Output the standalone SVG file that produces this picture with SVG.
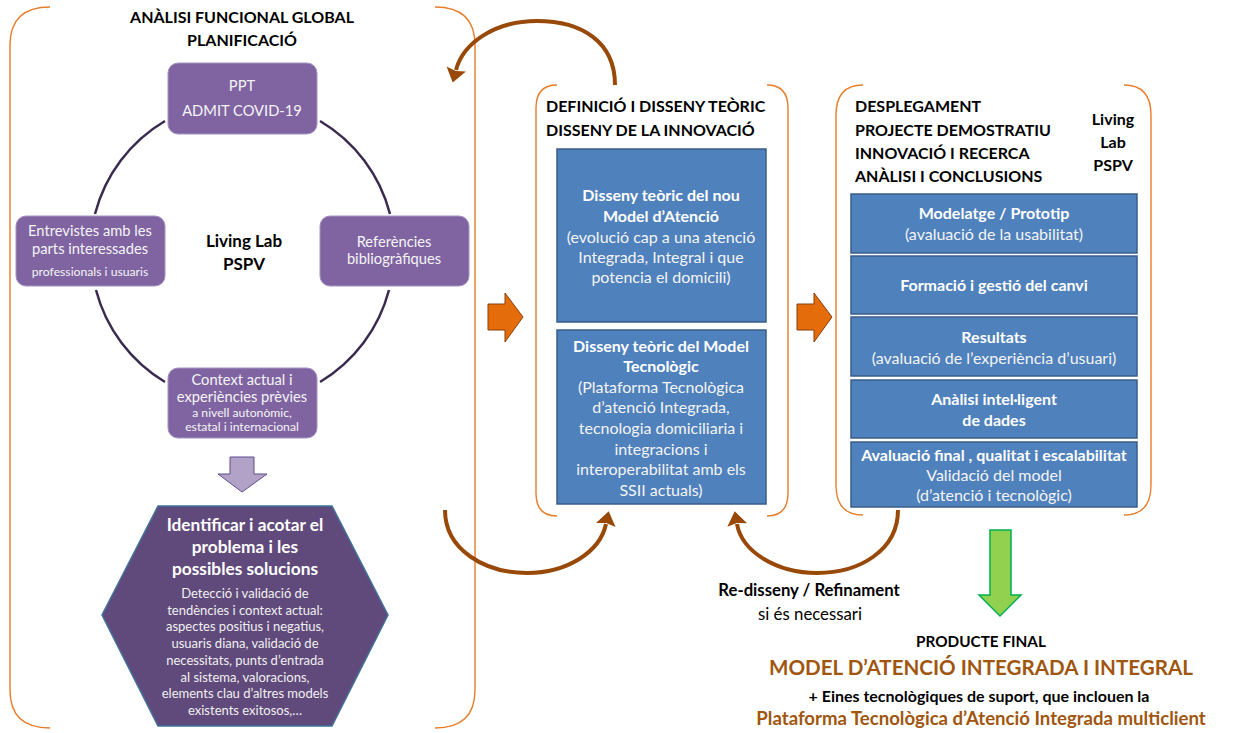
<svg xmlns="http://www.w3.org/2000/svg" width="1260" height="733" viewBox="0 0 1260 733">
  <defs>
    <style>
      text { font-family: Lato, "Open Sans", "Liberation Sans", sans-serif; }
      .bracket { fill: none; stroke: #E87D2A; stroke-width: 1.4; }
      .ring { fill: none; stroke: #3B2A4F; stroke-width: 2.5; }
      .pbox { fill: #8064A2; stroke: #A593C0; stroke-width: 1; }
      .bbox { fill: #4F81BD; stroke: #385D8A; stroke-width: 1.5; }
      .head { font-size: 16px; font-weight: 700; fill: #000; }
      .wt { fill: #F4F4F4; font-size: 16px; text-anchor: middle; }
      .wb { fill: #FFFFFF; font-size: 16px; font-weight: 700; text-anchor: middle; }
      .pt { fill: #F4F4F4; font-size: 14.7px; text-anchor: middle; }
      .sm { font-size: 12.2px; }
      .hx { fill: #F0F0F0; font-size: 13px; text-anchor: middle; }
      .loop { fill: none; stroke: #984807; stroke-width: 4; }
      .step { fill: #E46C0A; stroke: #8A3E06; stroke-width: 1; }
    </style>
    <marker id="brownHead" markerUnits="userSpaceOnUse" markerWidth="24" markerHeight="24" viewBox="0 -12 16 24" refX="1" refY="0" orient="auto">
      <path d="M0,-10 L14,0 L0,10 L2,0 z" fill="#984807"/>
    </marker>
  </defs>

  <!-- phase brackets -->
  <g id="brackets">
    <path class="bracket" d="M50,7 Q10,7 10,45 L10,690 Q10,728 50,728"/>
    <path class="bracket" d="M435,7 Q475,7 475,45 L475,690 Q475,728 435,728"/>
    <path class="bracket" d="M557,85 Q536,85 536,108 L536,493 Q536,516 557,516"/>
    <path class="bracket" d="M767,85 Q788,85 788,108 L788,493 Q788,516 767,516"/>
    <path class="bracket" d="M863,85 Q836,85 836,115 L836,485 Q836,515 863,515"/>
    <path class="bracket" d="M1124,85 Q1151,85 1151,115 L1151,485 Q1151,515 1124,515"/>
  </g>

  <!-- phase 1: global functional analysis -->
  <g id="phase1-title">
    <text class="head" x="242" y="23" text-anchor="middle">ANÀLISI FUNCIONAL GLOBAL</text>
    <text class="head" x="242" y="46" text-anchor="middle">PLANIFICACIÓ</text>
  </g>

  <g id="cycle">
    <path class="ring" d="M165,121 A152,152 0 0 0 95,214"/>
    <path class="ring" d="M320,121 A152,152 0 0 1 390,214"/>
    <path class="ring" d="M96,290 A152,152 0 0 0 165,382"/>
    <path class="ring" d="M389,290 A152,152 0 0 1 320,382"/>
  </g>

  <g id="living-lab-center">
    <text class="head" x="244" y="247" text-anchor="middle" style="font-size:17px">Living Lab</text>
    <text class="head" x="244" y="270" text-anchor="middle" style="font-size:17px">PSPV</text>
  </g>

  <g id="node-ppt">
    <rect class="pbox" x="168" y="63" width="149" height="71" rx="10"/>
    <text class="pt" x="242" y="91">PPT</text>
    <text class="pt" x="242" y="116">ADMIT COVID-19</text>
  </g>

  <g id="node-entrevistes">
    <rect class="pbox" x="16" y="216" width="149" height="70" rx="10"/>
    <text class="pt" x="90" y="236">Entrevistes amb les</text>
    <text class="pt" x="90" y="254">parts interessades</text>
    <text class="pt sm" x="90" y="276">professionals i usuaris</text>
  </g>

  <g id="node-referencies">
    <rect class="pbox" x="320" y="216" width="149" height="70" rx="10"/>
    <text class="pt" x="394" y="247">Referències</text>
    <text class="pt" x="394" y="264">bibliogràfiques</text>
  </g>

  <g id="node-context">
    <rect class="pbox" x="168" y="368" width="149" height="70" rx="10"/>
    <text class="pt" x="242" y="385">Context actual i</text>
    <text class="pt" x="242" y="402">experiències prèvies</text>
    <text class="pt sm" x="242" y="417">a nivell autonòmic,</text>
    <text class="pt sm" x="242" y="431">estatal i internacional</text>
  </g>

  <g id="arrow-down-lilac">
    <path d="M230,457 L254,457 L254,474 L267,474 L242,492 L218,474 L230,474 z" fill="#B3A2C7" stroke="#5F4B8B" stroke-width="1"/>
  </g>

  <g id="node-problema">
    <polygon points="158,506 332,506 388,615 332,726 158,726 102,615" fill="#604A7B" stroke="#41719C" stroke-width="1.5"/>
    <text class="wb" x="245" y="531" style="font-size:17.3px">Identificar i acotar el</text>
    <text class="wb" x="245" y="553" style="font-size:17.3px">problema i les</text>
    <text class="wb" x="245" y="575" style="font-size:17.3px">possibles solucions</text>
    <text class="hx" x="245" y="598">Detecció i validació de</text>
    <text class="hx" x="245" y="615">tendències i context actual:</text>
    <text class="hx" x="245" y="631">aspectes positius i negatius,</text>
    <text class="hx" x="245" y="648">usuaris diana, validació de</text>
    <text class="hx" x="245" y="665">necessitats, punts d’entrada</text>
    <text class="hx" x="245" y="682">al sistema, valoracions,</text>
    <text class="hx" x="245" y="698">elements clau d’altres models</text>
    <text class="hx" x="245" y="715">existents exitosos,…</text>
  </g>

  <!-- phase 2: theoretical design -->
  <g id="phase2-title">
    <text class="head" x="546" y="112">DEFINICIÓ I DISSENY TEÒRIC</text>
    <text class="head" x="546" y="136">DISSENY DE LA INNOVACIÓ</text>
  </g>

  <g id="node-model-atencio">
    <rect class="bbox" x="557" y="149" width="209" height="173"/>
    <text class="wb" x="661" y="201">Disseny teòric del nou</text>
    <text class="wb" x="661" y="222">Model d’Atenció</text>
    <text class="wt" x="661" y="243">(evolució cap a una atenció</text>
    <text class="wt" x="661" y="263">Integrada, Integral i que</text>
    <text class="wt" x="661" y="283">potencia el domicili)</text>
  </g>

  <g id="node-model-tecnologic">
    <rect class="bbox" x="557" y="330" width="209" height="174"/>
    <text class="wb" x="661" y="352">Disseny teòric del Model</text>
    <text class="wb" x="661" y="372">Tecnològic</text>
    <text class="wt" x="661" y="393">(Plataforma Tecnològica</text>
    <text class="wt" x="661" y="413">d’atenció Integrada,</text>
    <text class="wt" x="661" y="434">tecnologia domiciliaria i</text>
    <text class="wt" x="661" y="455">integracions i</text>
    <text class="wt" x="661" y="475">interoperabilitat amb els</text>
    <text class="wt" x="661" y="496">SSII actuals)</text>
  </g>

  <!-- phase 3: deployment -->
  <g id="phase3-title">
    <text class="head" x="855" y="112">DESPLEGAMENT</text>
    <text class="head" x="855" y="136">PROJECTE DEMOSTRATIU</text>
    <text class="head" x="855" y="159">INNOVACIÓ I RECERCA</text>
    <text class="head" x="855" y="182">ANÀLISI I CONCLUSIONS</text>
    <text class="head" x="1113" y="125" text-anchor="middle">Living</text>
    <text class="head" x="1113" y="148" text-anchor="middle">Lab</text>
    <text class="head" x="1113" y="171" text-anchor="middle">PSPV</text>
  </g>

  <g id="node-modelatge">
    <rect class="bbox" x="851" y="194" width="286" height="59"/>
    <text class="wb" x="994" y="219">Modelatge / Prototip</text>
    <text class="wt" x="994" y="240">(avaluació de la usabilitat)</text>
  </g>
  <g id="node-formacio">
    <rect class="bbox" x="851" y="256" width="286" height="58"/>
    <text class="wb" x="994" y="291">Formació i gestió del canvi</text>
  </g>
  <g id="node-resultats">
    <rect class="bbox" x="851" y="317" width="286" height="59"/>
    <text class="wb" x="994" y="343">Resultats</text>
    <text class="wt" x="994" y="364">(avaluació de l’experiència d’usuari)</text>
  </g>
  <g id="node-analisi">
    <rect class="bbox" x="851" y="380" width="286" height="58"/>
    <text class="wb" x="994" y="405">Anàlisi intel·ligent</text>
    <text class="wb" x="994" y="426">de dades</text>
  </g>
  <g id="node-avaluacio">
    <rect class="bbox" x="851" y="442" width="286" height="65"/>
    <text class="wb" x="994" y="461">Avaluació final , qualitat i escalabilitat</text>
    <text class="wt" x="994" y="481">Validació del model</text>
    <text class="wt" x="994" y="501">(d’atenció i tecnològic)</text>
  </g>

  <!-- connectors -->
  <g id="connectors">
    <path class="step" d="M488,304 L505,304 L505,293 L523,317 L505,342 L505,330 L488,330 z"/>
    <path class="step" d="M797,304 L814,304 L814,293 L832,317 L814,342 L814,330 L797,330 z"/>
    <path class="loop" d="M615,85 C615,42 582,21 537,21 C495,21 463,43 456,70" marker-end="url(#brownHead)"/>
    <path class="loop" d="M445,510 C445,550 485,573 527,573 C567,573 600,552 606,524" marker-end="url(#brownHead)"/>
    <path class="loop" d="M898,510 C898,550 860,573 817,573 C777,573 742,552 737,524" marker-end="url(#brownHead)"/>
    <path d="M990,530 L1011,530 L1011,595 L1021,595 L1000,616 L979,595 L990,595 z" fill="#92D050" stroke="#00B050" stroke-width="1.5"/>
  </g>

  <g id="label-redisseny">
    <text class="head" x="809" y="596" text-anchor="middle" style="font-size:16.7px">Re-disseny / Refinament</text>
    <text x="810" y="620" text-anchor="middle" font-size="16.8px" fill="#000">si és necessari</text>
  </g>

  <g id="producte-final">
    <text class="head" x="981" y="647" text-anchor="middle" style="font-size:15.3px">PRODUCTE FINAL</text>
    <text x="981" y="675" text-anchor="middle" font-size="20.6px" font-weight="700" fill="#A0560F">MODEL D’ATENCIÓ INTEGRADA I INTEGRAL</text>
    <text class="head" x="979" y="702" text-anchor="middle">+ Eines tecnològiques de suport, que inclouen  la</text>
    <text x="981" y="725" text-anchor="middle" font-size="18.6px" font-weight="700" fill="#A0560F">Plataforma Tecnològica d’Atenció Integrada multiclient</text>
  </g>
</svg>
